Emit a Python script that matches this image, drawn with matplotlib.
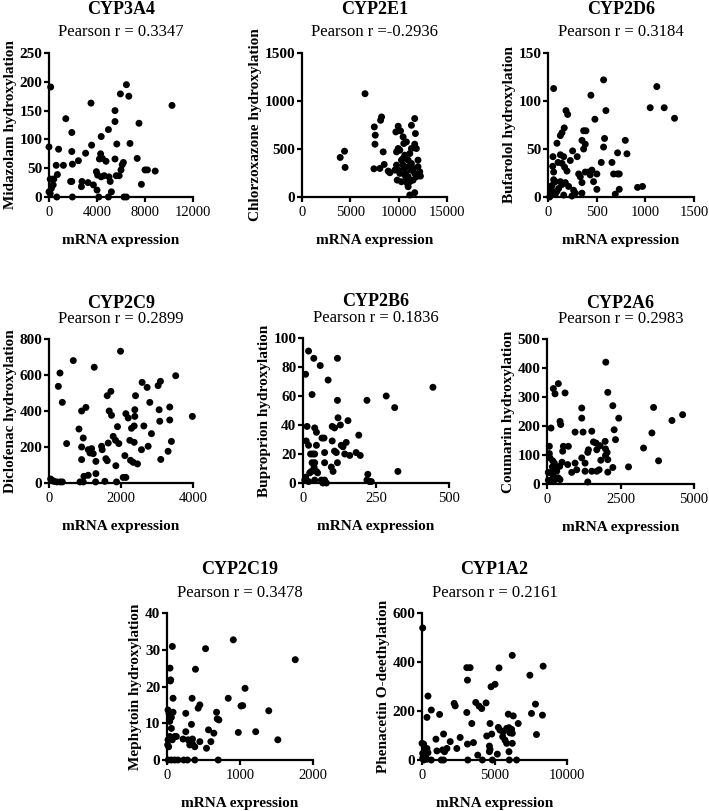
import matplotlib
matplotlib.use("Agg")
import matplotlib.pyplot as plt

plt.rcParams['font.family'] = ['Liberation Serif', 'DejaVu Serif']

genes = ["CYP3A4", "CYP2E1", "CYP2D6", "CYP2C9", "CYP2B6", "CYP2A6", "CYP2C19", "CYP1A2"]
pearson_labels = ["Pearson r = 0.3347", "Pearson r =-0.2936", "Pearson r = 0.3184", "Pearson r = 0.2899",
                  "Pearson r = 0.1836", "Pearson r = 0.2983", "Pearson r = 0.3478", "Pearson r = 0.2161"]
y_labels = ["Midazolam hydroxylation", "Chlorzoxazone hydroxylation", "Bufarolol hydroxylation",
            "Diclofenac hydroxylation", "Buproprion hydroxylation", "Coumarin hydroxylation",
            "Mephytoin hydroxylation", "Phenacetin O-deethylation"]
x_label = "mRNA expression"

x_limits = [12000, 15000, 1500, 4000, 500, 5000, 2000, 10000]
x_ticks = [[0, 4000, 8000, 12000], [0, 5000, 10000, 15000], [0, 500, 1000, 1500], [0, 2000, 4000],
           [0, 250, 500], [0, 2500, 5000], [0, 1000, 2000], [0, 5000, 10000]]
y_limits = [250, 1500, 150, 800, 100, 500, 40, 600]
y_ticks = [[0, 50, 100, 150, 200, 250], [0, 500, 1000, 1500], [0, 50, 100, 150],
           [0, 200, 400, 600, 800], [0, 20, 40, 60, 80, 100], [0, 100, 200, 300, 400, 500],
           [0, 10, 20, 30, 40], [0, 200, 400, 600]]

cyp3a4_x = [140, 0, 800, 1400, 1900, 1900, 1200, 600, 700, 300, 400, 100, 350, 200, 100, 0, 650, 1900, 1800,
            1950, 1950, 2450, 3050, 2750, 2700, 3250, 3700, 3500, 3550, 3950, 4050, 4000, 4150, 4300, 4200,
            4450, 4350, 4350, 4600, 4750, 4950, 5000, 4950, 5100, 5200, 5500, 5500, 5500, 5600, 5650, 5850,
            5950, 6000, 6100, 6200, 6250, 6450, 6450, 6650, 6750, 7350, 7500, 7700, 8000, 8200, 8850, 10250]
cyp3a4_y = [191, 87, 83, 136, 112, 79, 55, 55, 39, 31, 31, 31, 21, 15, 6, 9, 0, 27, 27,
            0, 57, 63, 76, 27, 18, 25, 21, 163, 90, 44, 38, 12, 0, 75, 66,
            67, 105, 35, 37, 62, 117, 35, 0, 27, 9, 66, 131, 150, 37, 92, 37,
            179, 47, 56, 60, 0, 195, 0, 175, 93, 67, 128, 22, 47, 47, 45, 159]

cyp2e1_x = [3950, 4400, 4460, 6520, 7480, 7580, 7550, 7440, 8130, 8230, 8400, 8060, 8500, 8920, 9090, 9710,
            9950, 10190, 9780, 9950, 10120, 9780, 9950, 10120, 9850, 10290, 10460, 10530, 10630, 10460, 10460,
            10560, 10700, 10800, 10900, 10980, 11150, 11660, 11320, 11660, 11730, 11660, 11830, 11320, 11150,
            10980, 11320, 11490, 11250, 10980, 11660, 12000, 12000, 12180, 12250, 11830, 11490, 11150, 10800,
            10630, 10980, 10290, 9610]
cyp2e1_y = [412, 477, 308, 1076, 730, 644, 550, 294, 799, 834, 470, 298, 339, 270, 253, 678,
            737, 689, 470, 505, 488, 332, 280, 246, 176, 159, 626, 557, 436, 401, 332,
            298, 246, 194, 142, 107, 21, 45, 747, 817, 661, 550, 505, 505, 453,
            384, 349, 298, 280, 315, 246, 384, 315, 263, 218, 211, 176, 159, 574,
            228, 211, 384, 280]

cyp2d6_x = [58, 1118, 1194, 1300, 1050, 571, 441, 482, 595, 185, 202, 167, 144, 127, 92, 51, 48, 58, 34, 24,
            17, 127, 161, 103, 144, 171, 195, 229, 253, 300, 349, 366, 390, 383, 366, 315, 332, 349, 383,
            417, 451, 434, 468, 349, 263, 212, 178, 144, 127, 110, 92, 75, 161, 246, 281, 502, 502, 581,
            571, 547, 657, 674, 715, 732, 715, 732, 691, 794, 811, 920, 971, 41, 75, 58]
cyp2d6_y = [113, 115, 93, 82, 93, 122, 106, 81, 90, 90, 86, 72, 67, 64, 56, 42, 32, 26, 8, 4,
            0, 44, 42, 36, 35, 31, 27, 38, 48, 42, 59, 69, 69, 55, 50, 24, 21, 15, 26,
            26, 28, 23, 16, 4, 7, 11, 15, 13, 16, 9, 6, 3, 2, 1, 4, 24, 8, 61,
            52, 36, 36, 24, 24, 24, 46, 8, 3, 59, 45, 10, 11, 12, 16, 18]

cyp2c9_x = [46, 92, 139, 212, 305, 370, 259, 305, 370, 490, 675, 832, 860, 906, 906, 906, 952, 952, 970,
            1026, 1090, 1090, 1137, 1183, 1229, 1257, 1303, 1303, 1294, 1460, 1478, 1552, 1580, 1617, 1617,
            1719, 1645, 1672, 1737, 1783, 1857, 1848, 1876, 1903, 1940, 1987, 2061, 2107, 2135, 2135, 2200,
            2245, 2264, 2292, 2338, 2366, 2384, 2384, 2403, 2366, 2458, 2587, 2569, 2634, 2726, 2754, 2800,
            2846, 3031, 3096, 3059, 3077, 3105, 3308, 3354, 3354, 3400, 3520, 3982]
cyp2c9_y = [22, 15, 9, 6, 6, 6, 537, 611, 448, 219, 680, 300, 6, 400, 200, 130, 250, 6, 37,
            420, 185, 43, 167, 191, 163, 643, 120, 52, 6, 204, 185, 9, 135, 124, 485,
            509, 222, 400, 376, 259, 96, 237, 6, 313, 219, 732, 31, 152, 31, 385, 361,
            237, 126, 304, 115, 317, 370, 407, 485, 226, 106, 559, 185, 317, 531, 204, 448,
            274, 541, 565, 407, 343, 131, 176, 422, 350, 231, 596, 370]

cyp2b6_x = [19, 37, 9, 59, 86, 118, 31, 118, 219, 285, 314, 445, 14, 40, 46, 65, 72, 100, 108, 120, 128,
            154, 191, 11, 19, 26, 34, 40, 46, 74, 31, 40, 38, 46, 50, 29, 23, 9, 6, 19, 40, 63, 74, 80,
            68, 74, 100, 108, 97, 103, 114, 118, 131, 137, 143, 148, 160, 182, 196, 222, 219, 228, 234, 325]
cyp2b6_y = [91, 86, 75, 81, 71, 86, 61, 57, 57, 60, 52, 66, 39, 38, 35, 31, 31, 39, 38, 45, 40,
            43, 33, 29, 26, 20, 20, 20, 26, 21, 14, 14, 11, 8, 7, 8, 7, 4, 2, 1, 2, 2, 2, 0,
            0, 14, 29, 22, 11, 8, 21, 14, 26, 25, 20, 28, 19, 21, 19, 6, 2, 1, 1, 8]

cyp2a6_x = [2000, 386, 216, 273, 614, 2068, 2239, 1182, 3625, 1182, 2440, 443, 466, 136, 1227, 955, 1523,
            2284, 4250, 4613, 3568, 3284, 3795, 2773, 2330, 1977, 1670, 1693, 1807, 1989, 2046, 1989, 2068,
            2239, 2068, 1830, 1773, 1693, 1523, 1295, 1409, 1386, 1580, 1182, 1295, 1011, 955, 841, 704,
            557, 727, 534, 511, 432, 330, 250, 193, 102, 80, 80, 136, 216, 273, 386, 443, 45, 45, 159,
            330, 250, 1386, 182]
cyp2a6_y = [420, 346, 329, 311, 314, 316, 270, 262, 264, 227, 227, 216, 205, 193, 179, 179, 182,
            187, 219, 239, 176, 124, 80, 59, 153, 147, 141, 118, 132, 121, 109, 98, 84,
            57, 41, 82, 49, 44, 44, 44, 118, 109, 145, 90, 72, 49, 72, 40, 67,
            130, 130, 113, 75, 61, 55, 72, 80, 90, 105, 130, 38, 26, 15, 21, 15, 40, 13, 15,
            44, 49, 7, 59]

cyp2c19_x = [908, 1757, 73, 528, 41, 46, 50, 390, 1069, 83, 344, 839, 1014, 1037, 1394, 1215, 977, 1518,
             679, 688, 711, 642, 569, 601, 541, 450, 427, 450, 335, 257, 257, 220, 289, 312, 349, 349, 381,
             312, 14, 28, 60, 83, 60, 37, 14, 23, 9, 73, 106, 128, 37, 18, 60, 106, 151, 229, 280, 381, 702]
cyp2c19_y = [32.7, 27.3, 30.9, 30.3, 25.0, 21.5, 21.8, 24.7, 19.5, 16.8, 16.8, 16.8, 14.7, 14.8, 13.4, 7.7,
             7.5, 5.5, 13.0, 11.2, 10.9, 7.3, 8.2, 5.0, 3.2, 5.0, 14.1, 15.0, 9.7, 12.7, 7.7, 5.7, 5.5, 5.0,
             5.7, 4.4, 3.6, 4.1, 13.6, 12.7, 11.6, 13.0, 8.6, 6.4, 5.5, 3.6, 4.1, 5.5, 6.4, 6.4, 10.5, 0, 0,
             0, 0, 0, 0, 0, 0]

cyp1a2_x = [46, 6224, 3089, 3318, 3135, 5312, 7440, 8355, 4762, 5037, 412, 641, 343, 1213, 2220, 2289, 3089,
            3707, 3936, 4120, 4418, 3433, 4692, 5952, 6293, 6636, 7552, 7826, 7895, 8307, 5265, 5380, 5609,
            5838, 5998, 6181, 6066, 6227, 5563, 5723, 5838, 6227, 5998, 6021, 6525, 4807, 4464, 4648, 4692,
            4648, 5197, 4853, 4166, 3845, 3547, 3135, 3158, 2632, 2403, 1946, 1717, 1488, 1419, 1328, 1488,
            961, 1030, 1557, 641, 343, 229, 114, 275, 412, 183, 114, 0, 343, 46, 46]
cyp1a2_y = [539, 427, 377, 377, 326, 376, 346, 383, 299, 309, 261, 204, 174, 186, 231, 221, 194,
            235, 220, 210, 233, 149, 149, 187, 180, 149, 190, 228, 104, 183, 133, 122, 115,
            129, 132, 125, 111, 109, 95, 81, 68, 68, 34, 0, 0, 106, 98, 34, 43,
            57, 24, 0, 0, 20, 71, 65, 0, 92, 47, 75, 47, 106, 41, 0, 0,
            85, 37, 34, 0, 3, 20, 0, 7, 30, 47, 65, 68, 47, 27, 7]

xs = [cyp3a4_x, cyp2e1_x, cyp2d6_x, cyp2c9_x, cyp2b6_x, cyp2a6_x, cyp2c19_x, cyp1a2_x]
ys = [cyp3a4_y, cyp2e1_y, cyp2d6_y, cyp2c9_y, cyp2b6_y, cyp2a6_y, cyp2c19_y, cyp1a2_y]

W, H = 709, 811
# axes boxes in pixels: left, top, right, bottom
boxes = [(49, 53, 193, 197), (302, 53, 447, 197), (548, 53, 694, 197),
         (49, 339, 193, 483), (303, 338, 449, 483), (547, 339, 694, 484),
         (167, 613, 313, 760), (422, 613, 567, 760)]
gene_off = [43, 43, 43, 36, 36, 36, 43, 43]
pear_off = [21, 21, 21, 20, 20, 20, 20, 20]

fig = plt.figure(figsize=(W / 100, H / 100), dpi=100)
for i in range(8):
    l, t, r, b = boxes[i]
    ax = fig.add_axes([l / W, 1 - b / H, (r - l) / W, (b - t) / H])
    ax.scatter(xs[i], ys[i], s=25, color='black', edgecolors='none', clip_on=False, zorder=5)
    ax.set_xlim(0, x_limits[i])
    ax.set_ylim(0, y_limits[i])
    ax.set_xticks(x_ticks[i])
    ax.set_yticks(y_ticks[i])
    for s in ['top', 'right']:
        ax.spines[s].set_visible(False)
    for s in ['left', 'bottom']:
        ax.spines[s].set_linewidth(1.6)
    ax.tick_params(axis='both', direction='out', length=3.8, width=1.6)
    ax.tick_params(axis='y', pad=1, labelsize=11)
    ax.tick_params(axis='x', pad=3, labelsize=10.5)
    for lab in ax.get_yticklabels():
        lab.set_fontweight('bold')
    ax.set_ylabel(y_labels[i], fontsize=11, fontweight='bold', labelpad=2)
    ax.set_xlabel(x_label, fontsize=11, fontweight='bold')
    ax.xaxis.set_label_coords(0.5, -37.0 / (b - t))
    ax.annotate(genes[i], xy=(0.5, 1), xycoords='axes fraction', xytext=(0, gene_off[i] * 0.72),
                textcoords='offset points', ha='center', va='center', fontsize=13, fontweight='bold')
    ax.annotate(pearson_labels[i], xy=(0.5, 1), xycoords='axes fraction', xytext=(0, pear_off[i] * 0.72),
                textcoords='offset points', ha='center', va='center', fontsize=12)

fig.savefig("out.png", dpi=100)
